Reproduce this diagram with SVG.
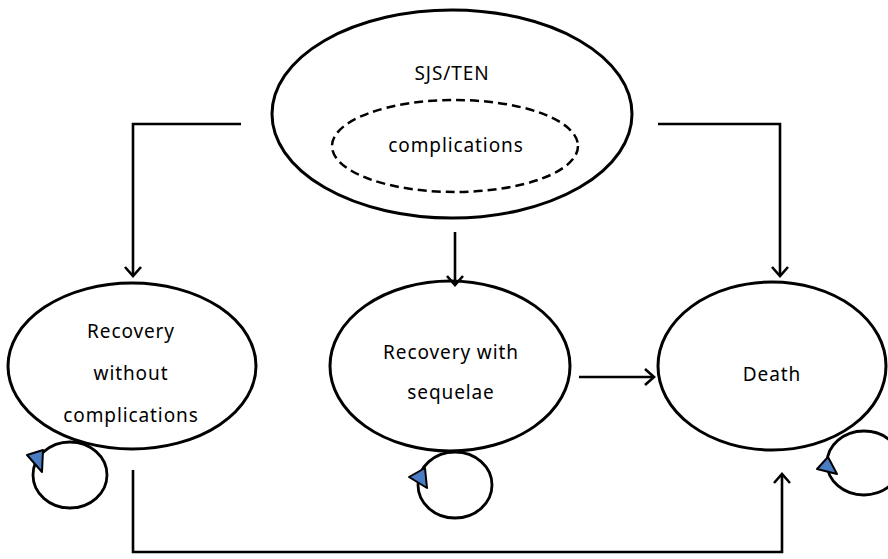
<svg xmlns="http://www.w3.org/2000/svg" width="888" height="559" viewBox="0 0 888 559">
<style>
.n{fill:none;stroke:#000;stroke-width:3}
.d{fill:none;stroke:#000;stroke-width:2.5;stroke-dasharray:9 5}
.t{font-family:"Noto Sans",sans-serif;font-size:19px;letter-spacing:0.9px;fill:#000;text-anchor:middle}
.c{fill:none;stroke:#000;stroke-width:2.6}
.lp{fill:none;stroke:#000;stroke-width:2.8}
.ah{fill:#4a7cc4;stroke:#000;stroke-width:2;stroke-linejoin:round}
</style>
<defs>
<marker id="arr" viewBox="0 0 20 20" refX="10" refY="10" markerWidth="20" markerHeight="20" markerUnits="userSpaceOnUse" orient="auto">
<polyline points="1,2 10,10 1,18" fill="none" stroke="#000" stroke-width="2.6"/>
</marker>
</defs>
<rect width="888" height="559" fill="#fff"/>
<g id="sjs">
<ellipse class="n" cx="452" cy="114" rx="180" ry="104"/>
<text class="t" x="452" y="80">SJS/TEN</text>
</g>
<g id="complications">
<ellipse class="d" cx="455" cy="146" rx="123" ry="46"/>
<text class="t" x="456" y="152">complications</text>
</g>
<g id="recovery">
<ellipse class="n" cx="132" cy="366" rx="124" ry="83"/>
<text class="t" x="131" y="338">Recovery</text>
<text class="t" x="131" y="380">without</text>
<text class="t" x="131" y="422">complications</text>
</g>
<g id="sequelae">
<ellipse class="n" cx="450" cy="366" rx="120" ry="85"/>
<text class="t" x="451" y="359">Recovery with</text>
<text class="t" x="451" y="399">sequelae</text>
</g>
<g id="death">
<ellipse class="n" cx="772" cy="366" rx="114" ry="84"/>
<text class="t" x="772" y="381">Death</text>
</g>
<g id="connectors">
<polyline class="c" points="241,124 133,124 133,276" marker-end="url(#arr)"/>
<polyline class="c" points="658,124 780,124 780,276" marker-end="url(#arr)"/>
<polyline class="c" points="455,232 455,285" marker-end="url(#arr)"/>
<polyline class="c" points="579,377 654,377" marker-end="url(#arr)"/>
<polyline class="c" points="133,470 133,552 782,552 782,474" marker-end="url(#arr)"/>
<ellipse class="lp" cx="70" cy="475" rx="37" ry="33"/>
<polygon class="ah" points="27,455 43,450 42,472"/>
<ellipse class="lp" cx="455" cy="485" rx="37" ry="33"/>
<polygon class="ah" points="409,477 425,468 427,488"/>
<ellipse class="lp" cx="864" cy="463" rx="37" ry="32"/>
<polygon class="ah" points="817,469 828,457 837,474"/>
</g>
</svg>
